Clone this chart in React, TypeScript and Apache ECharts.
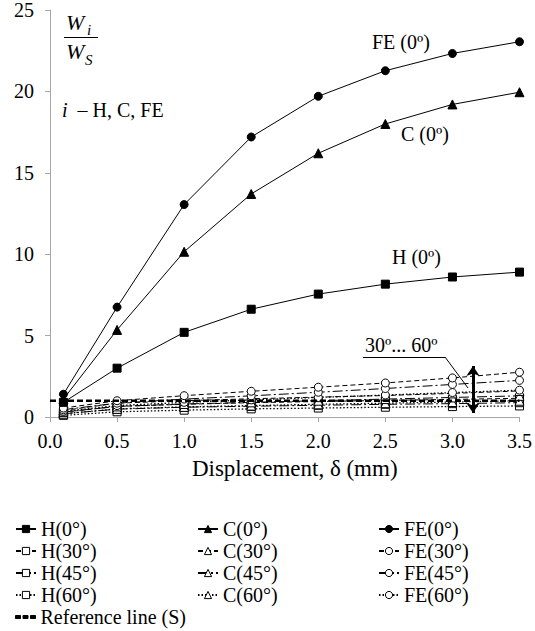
import React, { useEffect, useRef } from "react";
import * as echarts from "echarts";

const xValues = [0.1, 0.5, 1.0, 1.5, 2.0, 2.5, 3.0, 3.5];
const h0 = [0.9, 3.0, 5.2, 6.62, 7.55, 8.16, 8.6, 8.9];
const c0 = [1.1, 5.35, 10.15, 13.7, 16.2, 18.0, 19.2, 19.95];
const fe0 = [1.4, 6.75, 13.05, 17.2, 19.7, 21.27, 22.33, 23.05];
const h30 = [0.3, 0.65, 0.78, 0.88, 0.95, 1.02, 1.08, 1.15];
const h45 = [0.2, 0.48, 0.6, 0.66, 0.72, 0.78, 0.82, 0.88];
const h60 = [0.1, 0.32, 0.42, 0.5, 0.55, 0.6, 0.64, 0.68];
const c30 = [0.4, 0.85, 1.0, 1.12, 1.22, 1.32, 1.45, 1.6];
const c45 = [0.3, 0.65, 0.8, 0.9, 1.0, 1.1, 1.2, 1.3];
const c60 = [0.2, 0.5, 0.62, 0.7, 0.78, 0.85, 0.92, 1.0];
const fe30 = [0.55, 1.0, 1.31, 1.58, 1.83, 2.09, 2.4, 2.75];
const fe45 = [0.45, 0.85, 1.1, 1.3, 1.52, 1.75, 2.0, 2.25];
const fe60 = [0.35, 0.7, 0.9, 1.05, 1.2, 1.35, 1.5, 1.65];
const refX = [0, 3.5];
const refY = [1, 1];

const FONT = "Liberation Serif";

const DASH: Record<string, any> = {
  "0": "solid",
  "30": [5, 3],
  "45": [10, 3, 2, 3],
  "60": [1.5, 2],
};

function mk(name: string, values: number[], symbol: string, angle: string) {
  const filled = angle === "0";
  return {
    name,
    type: "line",
    data: xValues.map((x, i) => [x, values[i]]),
    symbol,
    symbolSize: symbol === "triangle" ? 9 : 8,
    z: filled ? 4 : 2,
    lineStyle: {
      color: "#000",
      width: angle === "60" ? 1.3 : 1,
      type: DASH[angle],
    },
    itemStyle: {
      color: filled ? "#000" : "#fff",
      borderColor: "#000",
      borderWidth: 1,
    },
  };
}

function title(text: string, left: number, top: number, size = 20, italic = false, rich?: any) {
  return {
    text,
    left,
    top,
    padding: 0,
    textStyle: {
      fontFamily: FONT,
      fontSize: size,
      fontWeight: "normal",
      fontStyle: italic ? "italic" : "normal",
      color: "#000",
      ...(rich ? { rich } : {}),
    },
  };
}

export default function App() {
  const ref = useRef<HTMLDivElement>(null);
  useEffect(() => {
    if (!ref.current) return;
    const chart = echarts.init(ref.current, null, { renderer: "svg" });
    const series: any[] = [
      mk("H(60°)", h60, "rect", "60"),
      mk("H(45°)", h45, "rect", "45"),
      mk("H(30°)", h30, "rect", "30"),
      mk("C(60°)", c60, "triangle", "60"),
      mk("C(45°)", c45, "triangle", "45"),
      mk("C(30°)", c30, "triangle", "30"),
      mk("FE(60°)", fe60, "circle", "60"),
      mk("FE(45°)", fe45, "circle", "45"),
      mk("FE(30°)", fe30, "circle", "30"),
      {
        name: "Reference line (S)",
        type: "line",
        data: refX.map((x, i) => [x, refY[i]]),
        symbol: "none",
        z: 3,
        lineStyle: { color: "#000", width: 2.5, type: [6, 3] },
        itemStyle: { color: "#000", borderColor: "#000" },
        markLine: {
          silent: true,
          symbol: ["none", "none"],
          label: { show: false },
          lineStyle: { color: "#000", width: 1, type: "solid" },
          data: [
            [{ x: 64, y: 37.5 }, { x: 98, y: 37.5 }],
            [{ x: 363, y: 357 }, { x: 445, y: 357 }],
            [{ x: 445, y: 357 }, { x: 468, y: 388 }],
            [
              { x: 473, y: 366, symbol: "arrow", symbolSize: [10, 10], lineStyle: { width: 3, color: "#000", type: "solid" } },
              { x: 473, y: 413, symbol: "arrow", symbolSize: [10, 10] },
            ],
          ],
        },
      },
      mk("H(0°)", h0, "rect", "0"),
      mk("C(0°)", c0, "triangle", "0"),
      mk("FE(0°)", fe0, "circle", "0"),
    ];
    const legendBase = {
      orient: "vertical",
      top: 519,
      padding: 0,
      itemGap: 2,
      itemWidth: 20,
      itemHeight: 9,
      selectedMode: false,
      itemStyle: { borderWidth: 1 },
      textStyle: { fontFamily: FONT, fontSize: 20, color: "#000" },
    };
    chart.setOption({
      animation: false,
      textStyle: { fontFamily: FONT },
      title: [
        title("W", 66, 11, 22, true),
        title("i", 87, 22.5, 15, true),
        title("W", 66, 40, 22, true),
        title("S", 85, 52.5, 15, true),
        title("{it|i}  – H, C, FE", 62, 100, 20, false, {
          it: { fontFamily: FONT, fontSize: 20, fontStyle: "italic", color: "#000" },
        }),
        title("FE (0º)", 372, 32),
        title("C (0º)", 401, 124),
        title("H (0º)", 392, 247),
        title("30º... 60º", 365, 335),
      ],
      grid: { left: 50, right: 13, top: 10, bottom: 214 },
      xAxis: {
        type: "value",
        min: 0,
        max: 3.5,
        interval: 0.5,
        name: "Displacement, δ (mm)",
        nameLocation: "middle",
        nameGap: 40,
        nameTextStyle: { fontFamily: FONT, fontSize: 23, color: "#000", padding: [0, 0, 0, 20] },
        axisLine: { show: true, lineStyle: { color: "#a6a6a6", width: 1 } },
        axisTick: { show: true, length: 5, lineStyle: { color: "#a6a6a6" } },
        axisLabel: {
          fontFamily: FONT,
          fontSize: 20,
          color: "#000",
          margin: 14,
          formatter: (v: number) => v.toFixed(1),
        },
        splitLine: { show: false },
      },
      yAxis: {
        type: "value",
        min: 0,
        max: 25,
        interval: 5,
        axisLine: { show: true, lineStyle: { color: "#a6a6a6", width: 1 } },
        axisTick: { show: true, length: 5, lineStyle: { color: "#a6a6a6" } },
        axisLabel: { fontFamily: FONT, fontSize: 20, color: "#000", margin: 16 },
        splitLine: { show: false },
      },
      legend: [
        { ...legendBase, left: 15, data: ["H(0°)", "H(30°)", "H(45°)", "H(60°)"] },
        { ...legendBase, left: 197, data: ["C(0°)", "C(30°)", "C(45°)", "C(60°)"] },
        { ...legendBase, left: 378, data: ["FE(0°)", "FE(30°)", "FE(45°)", "FE(60°)"] },
        {
          ...legendBase,
          top: 607,
          left: 15,
          itemWidth: 20,
          itemHeight: 3,
          data: [
            {
              name: "Reference line (S)",
              icon: "path://M0,0h5v3h-5zM7.5,0h5v3h-5zM15,0h5v3h-5z",
            },
          ],
        },
      ],
      series,
    });
    return () => chart.dispose();
  }, []);
  return (
    <div
      ref={ref}
      style={{ position: "fixed", left: 0, top: 0, width: 535, height: 631, background: "#fff" }}
    />
  );
}
